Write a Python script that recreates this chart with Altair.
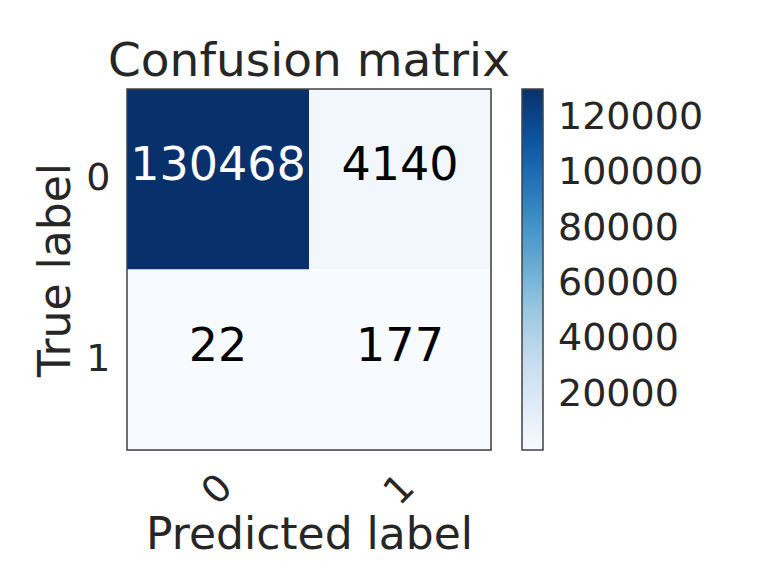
import altair as alt
import pandas as pd

true_labels = ["0", "0", "1", "1"]
pred_labels = ["0", "1", "0", "1"]
counts = [130468, 4140, 22, 177]
colorbar_ticks = [20000, 40000, 60000, 80000, 100000, 120000]
blues = ['#f7fbff', '#deebf7', '#c6dbef', '#9ecae1', '#6baed6',
         '#4292c6', '#2171b5', '#08519c', '#08306b']

df = pd.DataFrame({"true": true_labels, "pred": pred_labels, "count": counts})
vmin, vmax = min(counts), max(counts)
stops = [vmin + i * (vmax - vmin) / (len(blues) - 1) for i in range(len(blues))]
thresh = vmax / 2

FONT = "DejaVu Sans"
GREY = "#262626"
W, H = 364, 361

x_enc = alt.X(
    "pred:N",
    scale=alt.Scale(paddingInner=0, paddingOuter=0),
    axis=alt.Axis(
        title="Predicted label", labelAngle=315, labelAlign="center",
        labelBaseline="middle", labelPadding=40, ticks=False, tickSize=0,
        domain=False, labelFontSize=38, titleFontSize=44, titleFont=FONT,
        labelFont=FONT, labelColor=GREY, titleColor=GREY, titleFontWeight="normal",
        titleBaseline="alphabetic", titleY=98, titleX=W / 2, grid=False,
    ),
)
y_enc = alt.Y(
    "true:N",
    scale=alt.Scale(paddingInner=0, paddingOuter=0),
    axis=alt.Axis(
        title="True label", labelAngle=0, labelAlign="right",
        labelBaseline="middle", labelPadding=17, ticks=False, tickSize=0,
        domain=False, labelFontSize=38, titleFontSize=44, titleFont=FONT,
        labelFont=FONT, labelColor=GREY, titleColor=GREY, titleFontWeight="normal",
        titleAngle=270, titleBaseline="alphabetic", titleX=-58, titleY=H / 2,
        grid=False,
    ),
)

rect = alt.Chart(df).mark_rect().encode(
    x=x_enc,
    y=y_enc,
    color=alt.Color(
        "count:Q",
        scale=alt.Scale(type="linear", domain=stops, range=blues),
        legend=alt.Legend(
            title=None, values=colorbar_ticks, gradientLength=H,
            gradientThickness=21, labelFontSize=38, labelFont=FONT,
            labelColor=GREY, labelOffset=15, offset=31, padding=0,
            gradientStrokeColor="#404040", gradientStrokeWidth=1.5,
            labelOverlap=False, direction="vertical", orient="right",
            format="d",
        ),
    ),
)

text = alt.Chart(df).mark_text(
    fontSize=46, font=FONT, baseline="alphabetic", dy=1, align="center"
).encode(
    x="pred:N",
    y="true:N",
    text=alt.Text("count:Q", format="d"),
    color=alt.condition(alt.datum["count"] > thresh, alt.value("white"), alt.value("black")),
)

frame = alt.Chart(pd.DataFrame({"k": [0]})).mark_rect(
    fill=None, stroke="#404040", strokeWidth=1.5
).encode(
    x=alt.value(0), x2=alt.value(W), y=alt.value(0), y2=alt.value(H)
)

chart = alt.layer(rect, text, frame).properties(
    width=W,
    height=H,
    title=alt.TitleParams(
        "Confusion matrix", fontSize=47, font=FONT, color=GREY,
        fontWeight="normal", baseline="alphabetic", offset=12, dy=47,
        anchor="middle",
    ),
    padding={"left": 119, "top": 81, "right": 260, "bottom": 120},
    autosize=alt.AutoSizeParams(type="none"),
).configure_view(
    stroke=None
).configure(background="white")

chart.save("out.html", embed_options={"renderer": "svg", "actions": False})
